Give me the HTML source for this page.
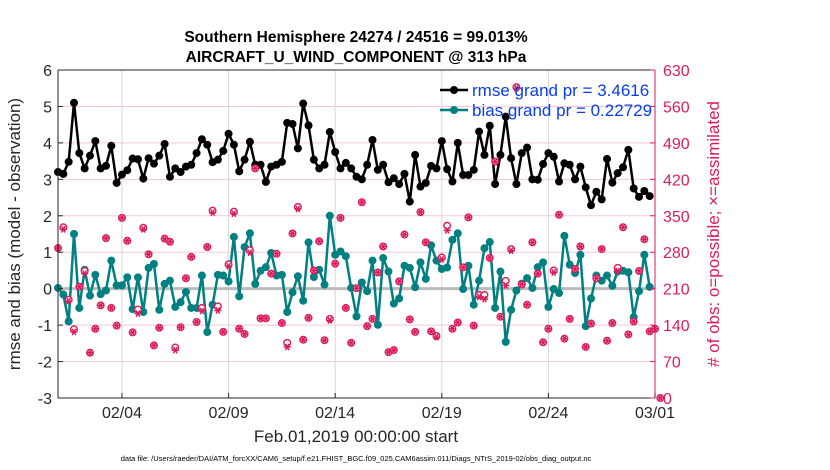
<!DOCTYPE html>
<html><head><meta charset="utf-8">
<style>
html,body{margin:0;padding:0;background:#fff;}
svg{display:block;font-family:"Liberation Sans",Arial,sans-serif;}
</style></head>
<body>
<svg id="chart" width="830" height="470" viewBox="0 0 830 470"></svg>
<script>
const tickDates = ["02/04","02/09","02/14","02/19","02/24","03/01"];
const tickDays = [3,8,13,18,23,28];
const leftTicks = [-3,-2,-1,0,1,2,3,4,5,6];
const rightTicks = [0,70,140,210,280,350,420,490,560,630];
const rmse = [3.2,3.15,3.48,5.1,3.72,3.3,3.65,4.05,3.3,3.37,3.92,2.9,3.13,3.25,3.57,3.55,3.02,3.58,3.43,3.65,3.97,3.07,3.3,3.2,3.35,3.4,3.72,4.1,3.95,3.47,3.54,3.78,4.25,3.95,3.22,3.54,4.03,3.4,3.4,2.93,3.35,3.4,3.48,4.55,4.52,3.85,5.08,4.48,3.54,3.3,3.4,4.3,3.75,3.3,3.45,3.3,3.07,
3.0,3.4,4.08,3.26,3.4,2.92,3.03,2.87,3.15,2.39,3.67,2.8,2.9,3.37,3.3,4.05,3.28,2.94,4.0,3.12,3.12,3.26,4.31,3.67,4.47,2.87,3.67,4.72,3.58,2.87,3.72,3.87,3.0,2.99,3.42,3.72,3.62,2.94,3.44,3.4,3.0,3.35,2.78,2.29,2.66,2.45,3.56,2.91,3.17,3.33,3.81,2.75,2.52,2.68,2.54];
const bias = [0.02,-0.16,-0.9,1.5,-0.53,0.52,-0.19,0.38,-0.15,-0.05,0.77,0.09,0.09,0.31,-0.56,0.31,-0.64,0.57,0.68,-0.58,0.13,0.22,-0.5,-0.37,-0.09,-0.53,-0.53,0.36,-1.19,-0.44,0.38,0.36,0.2,1.42,-0.21,1.14,1.52,0.13,0.49,0.59,0.98,0.36,0.38,-0.64,-0.1,0.34,-0.33,1.27,0.32,0.52,0.11,2.0,0.93,1.02,0.89,0.02,-0.76,
0.17,-0.07,0.77,-0.99,0.84,0.47,-0.41,-0.27,0.63,0.57,0.04,0.72,0.27,1.19,0.77,0.54,0.58,1.34,1.52,-0.01,0.63,-0.44,0.22,1.11,1.28,-0.53,0.47,-1.46,-0.58,-0.05,0.14,0.29,0.02,0.59,0.72,-0.5,-0.01,-0.12,1.45,0.66,0.43,0.93,-1.03,-0.27,0.36,0.22,0.36,0.08,0.47,0.49,0.45,-0.78,-0.07,0.93,0.05];
const assimilated = [288,324,186,127,214,239,87,133,178,307,173,139,346,302,126,162,324,276,101,135,306,300,92,136,230,271,146,167,290,356,168,127,253,354,133,123,279,441,153,153,239,277,144,98,316,363,112,154,245,301,111,149,258,346,173,106,211,
376,138,152,241,291,88,92,224,314,151,127,357,299,128,117,266,322,133,145,251,347,139,194,190,269,454,156,216,283,595,218,179,299,239,107,133,241,352,114,152,248,291,98,143,230,286,110,144,244,328,122,147,244,305,128,133,0];
const possible = [288,328,189,132,214,244,87,133,178,307,173,139,346,302,126,170,327,276,101,135,306,300,97,136,230,271,146,173,290,360,176,127,257,358,133,123,284,441,153,153,239,277,144,106,316,367,112,154,245,301,111,152,258,346,173,106,211,
376,138,152,241,291,88,92,224,314,151,127,357,299,128,119,270,331,133,145,251,347,139,198,198,269,454,156,225,286,597,218,179,299,239,107,133,245,352,114,152,248,291,98,143,230,286,110,144,250,328,122,147,244,305,128,133,0];

const X0=58, X1=655, Y0=70, Y1=398;
const xs = i => X0 + (i/4)*(X1-X0)/28;
const xd = d => X0 + d*(X1-X0)/28;
const yl = v => Y1 - (v+3)*(Y1-Y0)/9;
const yr = v => Y1 - v*(Y1-Y0)/630;
const NS="http://www.w3.org/2000/svg";
const svg=document.getElementById('chart');
function mk(tag,attrs,parent){const e=document.createElementNS(NS,tag);for(const k in attrs)e.setAttribute(k,attrs[k]);(parent||svg).appendChild(e);return e;}
const MAG="#dc1c5c", TEAL="#008080";

const grid=mk('g',{});


rightTicks.forEach(v=>{ if(v>0&&v<630){const l=mk('line',{x1:X0,x2:X1,y1:yr(v),y2:yr(v),stroke:"#f5c8d8","stroke-width":1},grid);

}});
tickDays.forEach(d=>{ if(d<28){const l=mk('line',{x1:xd(d),x2:xd(d),y1:Y0,y2:Y1,stroke:"#d8d8d8","stroke-width":1},grid);

}});
const zl=mk('line',{x1:X0,x2:X1,y1:yl(0),y2:yl(0),stroke:"#bbbbbb","stroke-width":3});



const rg=mk('g',{});


mk('polyline',{points:rmse.map((v,i)=>xs(i)+","+yl(v)).join(" "),fill:"none",stroke:"#000","stroke-width":2.5,"stroke-linejoin":"round"},rg);
rmse.forEach((v,i)=>{const c=mk('circle',{cx:xs(i),cy:yl(v),r:4,fill:"#000"},rg);

});

const bg=mk('g',{});


mk('polyline',{points:bias.map((v,i)=>xs(i)+","+yl(v)).join(" "),fill:"none",stroke:TEAL,"stroke-width":2.5,"stroke-linejoin":"round"},bg);
bias.forEach((v,i)=>{const c=mk('circle',{cx:xs(i),cy:yl(v),r:4,fill:TEAL},bg);

});

const og=mk('g',{});


possible.forEach((v,i)=>{const c=mk('circle',{cx:xs(i),cy:yr(v),r:3.3,fill:"#fff",stroke:MAG,"stroke-width":1.4},og);

});
assimilated.forEach((v,i)=>{
  const x=xs(i), y=yr(v), r=3.6;
  let d="M"+(x-r)+" "+y+"H"+(x+r);
  d+="M"+(x-r*0.5)+" "+(y-r*0.87)+"L"+(x+r*0.5)+" "+(y+r*0.87);
  d+="M"+(x+r*0.5)+" "+(y-r*0.87)+"L"+(x-r*0.5)+" "+(y+r*0.87);
  const p=mk('path',{d:d,stroke:MAG,"stroke-width":1.5,fill:"none"},og);
  
  
});

const ax=mk('g',{});


mk('line',{x1:X0,x2:X1,y1:Y0,y2:Y0,stroke:"#262626","stroke-width":1},ax);
mk('line',{x1:X0,x2:X1,y1:Y1,y2:Y1,stroke:"#262626","stroke-width":1},ax);
mk('line',{x1:X0,x2:X0,y1:Y0,y2:Y1,stroke:"#262626","stroke-width":1},ax);
mk('line',{x1:X1,x2:X1,y1:Y0,y2:Y1,stroke:MAG,"stroke-width":1},ax);

leftTicks.forEach(v=>{
  mk('line',{x1:X0,x2:X0+5,y1:yl(v),y2:yl(v),stroke:"#262626"});
  const t=mk('text',{x:X0-6,y:yl(v)+6,"text-anchor":"end","font-size":16,fill:"#262626"});t.textContent=v;
  
  
});
rightTicks.forEach(v=>{
  mk('line',{x1:X1-5,x2:X1,y1:yr(v),y2:yr(v),stroke:MAG});
  const t=mk('text',{x:X1+8,y:yr(v)+6,"font-size":16,fill:MAG});t.textContent=v;
  
  
});
tickDates.forEach((s,k)=>{
  const x=xd(tickDays[k]);
  mk('line',{x1:x,x2:x,y1:Y1,y2:Y1-5,stroke:"#262626"});
  const t=mk('text',{x:x,y:418,"text-anchor":"middle","font-size":16,fill:"#262626"});t.textContent=s;
  
  
});
</script>
<script>
(function(){
const svg=document.getElementById('chart');
const NS="http://www.w3.org/2000/svg";
function mk(tag,attrs){const e=document.createElementNS(NS,tag);for(const k in attrs)e.setAttribute(k,attrs[k]);svg.appendChild(e);return e;}
let t;
t=mk('text',{x:356,y:42,"text-anchor":"middle","font-size":15.5,"font-weight":"bold",fill:"#000"});t.textContent="Southern Hemisphere 24274 / 24516 = 99.013%";


t=mk('text',{x:356,y:62,"text-anchor":"middle","font-size":15.5,"font-weight":"bold",fill:"#000"});t.textContent="AIRCRAFT_U_WIND_COMPONENT @ 313 hPa";


t=mk('text',{x:356,y:442,"text-anchor":"middle","font-size":17,fill:"#262626"});t.textContent="Feb.01,2019 00:00:00 start";


t=mk('text',{x:356,y:461,"text-anchor":"middle","font-size":7.5,fill:"#000"});t.textContent="data file: /Users/raeder/DAI/ATM_forcXX/CAM6_setup/f.e21.FHIST_BGC.f09_025.CAM6assim.011/Diags_NTrS_2019-02/obs_diag_output.nc";


t=mk('text',{x:0,y:0,"text-anchor":"middle","font-size":17,fill:"#262626",transform:"translate(20,234) rotate(-90)"});t.textContent="rmse and bias (model - observation)";


t=mk('text',{x:0,y:0,"text-anchor":"middle","font-size":17,fill:"#dc1c5c",transform:"translate(719,234) rotate(-90)"});t.textContent="# of obs: o=possible; \u00d7=assimilated";


const lg=document.createElementNS(NS,'g');svg.appendChild(lg);


function le(y,col,label,name){
  const g=document.createElementNS(NS,'g');lg.appendChild(g);
  
  
  const l=document.createElementNS(NS,'line');l.setAttribute('x1',440);l.setAttribute('x2',468);l.setAttribute('y1',y);l.setAttribute('y2',y);l.setAttribute('stroke',col);l.setAttribute('stroke-width',2.5);g.appendChild(l);
  const c=document.createElementNS(NS,'circle');c.setAttribute('cx',454);c.setAttribute('cy',y);c.setAttribute('r',4);c.setAttribute('fill',col);g.appendChild(c);
  const t=document.createElementNS(NS,'text');t.setAttribute('x',472);t.setAttribute('y',y+6);t.setAttribute('font-size',17);t.setAttribute('fill','#0a3cf0');t.textContent=label;g.appendChild(t);
}
le(90,'#000','rmse grand pr = 3.4616','legend-entry-rmse');
le(110,'#008080','bias grand pr = 0.22729','legend-entry-bias');
})();
</script>
</body></html>
